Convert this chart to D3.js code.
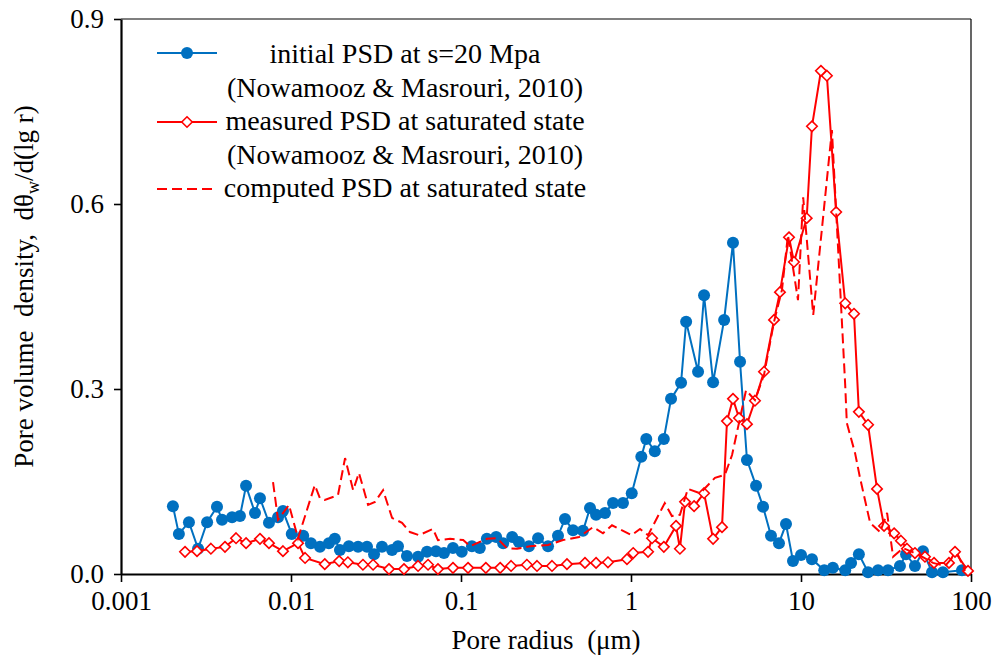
<!DOCTYPE html>
<html>
<head>
<meta charset="utf-8">
<script src="https://cdn.jsdelivr.net/npm/d3@7"></script>
</head>
<body style="margin:0;background:#fff">
<div id="chart"></div>
<script>
// initial PSD at s=20 MPa (blue dots)
const initR = [0.00202,0.00219,0.00251,0.00284,0.00321,0.00367,0.00393,0.00450,0.00501,0.00544,
  0.00614,0.00657,0.00742,0.00839,0.00897,0.0101,0.0118,0.0131,0.0148,0.0167,
  0.0181,0.0194,0.0219,0.0248,0.0280,0.0308,0.0343,0.0393,0.0426,0.0481,
  0.0559,0.0631,0.0713,0.0794,0.0897,0.101,0.116,0.129,0.142,0.161,
  0.177,0.200,0.219,0.251,0.284,0.325,0.372,0.409,0.456,0.522,
  0.574,0.623,0.703,0.784,0.897,1.01,1.15,1.23,1.38,1.56,
  1.72,1.97,2.11,2.48,2.69,3.04,3.53,3.98,4.38,4.81,
  5.44,5.98,6.66,7.42,8.16,8.97,10.0,11.6,13.7,15.4,
  18.2,19.7,21.9,24.8,28.4,32.5,38.2,41.5,46.8,52.2,
  59.0,68.4,88.5];
const initVal = [0.110,0.065,0.084,0.041,0.084,0.109,0.088,0.092,0.094,0.143,
  0.099,0.123,0.083,0.092,0.102,0.065,0.062,0.050,0.044,0.050,
  0.057,0.039,0.045,0.044,0.044,0.032,0.044,0.039,0.045,0.029,
  0.028,0.036,0.037,0.034,0.042,0.036,0.045,0.042,0.057,0.060,
  0.050,0.060,0.052,0.045,0.058,0.045,0.062,0.089,0.071,0.070,
  0.107,0.096,0.099,0.115,0.115,0.131,0.190,0.219,0.199,0.219,
  0.284,0.310,0.409,0.328,0.452,0.311,0.412,0.537,0.344,0.185,
  0.143,0.109,0.062,0.050,0.081,0.021,0.031,0.024,0.006,0.010,
  0.006,0.018,0.032,0.003,0.006,0.006,0.013,0.032,0.013,0.037,
  0.003,0.003,0.006];

// measured PSD at saturated state (red diamonds)
const measR = [0.00238,0.00280,0.00338,0.00409,0.00475,0.00544,0.00657,0.00742,0.00897,0.0110,
  0.0121,0.0158,0.0192,0.0216,0.0265,0.0304,0.0377,0.0462,0.0559,0.0640,
  0.0732,0.0897,0.110,0.140,0.170,0.197,0.244,0.280,0.343,0.420,
  0.536,0.623,0.732,0.947,1.03,1.26,1.33,1.56,1.84,1.94,
  2.08,2.35,2.69,3.04,3.43,3.67,3.98,4.32,4.81,5.36,
  6.06,6.94,7.52,8.50,9.09,10.8,11.6,13.1,14.2,16.1,
  18.2,20.5,21.9,24.8,28.0,30.8,35.3,38.7,42.0,46.8,
  53.6,60.6,74.2,80.5,96.0];
const measVal = [0.036,0.037,0.041,0.044,0.058,0.050,0.057,0.050,0.037,0.050,
  0.026,0.016,0.021,0.019,0.015,0.015,0.008,0.008,0.013,0.015,
  0.008,0.010,0.010,0.010,0.010,0.013,0.015,0.013,0.013,0.016,
  0.018,0.018,0.019,0.024,0.034,0.036,0.058,0.044,0.078,0.041,
  0.117,0.110,0.131,0.057,0.076,0.248,0.284,0.253,0.243,0.281,
  0.328,0.412,0.457,0.546,0.506,0.577,0.726,0.816,0.808,0.587,
  0.439,0.422,0.263,0.242,0.138,0.078,0.066,0.054,0.041,0.034,
  0.028,0.018,0.018,0.036,0.005];

// computed PSD at saturated state (red dashed)
const compR = [0.00784,0.00839,0.00973,0.0110,0.0138,0.0148,0.0158,0.0189,0.0208,0.0232,
  0.0251,0.0284,0.0312,0.0348,0.0393,0.0450,0.0501,0.0566,0.0684,0.0732,
  0.0862,0.103,0.113,0.129,0.142,0.163,0.186,0.214,0.255,0.325,
  0.398,0.495,0.598,0.684,0.773,1.01,1.13,1.26,1.58,1.74,
  1.94,2.16,2.55,3.12,3.57,3.93,4.75,5.36,6.06,6.94,
  7.73,8.38,9.60,10.3,11.8,15.2,18.2,18.6,20.8,22.2,
  25.5,29.2,32.1,34.8,39.8,45.0,51.5,59.8,70.3,77.3,
  83.8,92.2];
const compVal = [0.149,0.088,0.112,0.058,0.144,0.123,0.120,0.128,0.188,0.136,
  0.164,0.112,0.117,0.136,0.091,0.083,0.068,0.063,0.073,0.055,
  0.057,0.055,0.045,0.052,0.057,0.058,0.042,0.041,0.045,0.047,
  0.055,0.060,0.076,0.066,0.079,0.063,0.073,0.063,0.115,0.094,
  0.096,0.138,0.131,0.156,0.161,0.193,0.298,0.282,0.323,0.409,
  0.461,0.550,0.444,0.611,0.420,0.720,0.306,0.245,0.196,0.157,
  0.083,0.068,0.099,0.028,0.042,0.036,0.028,0.018,0.013,0.026,
  0.031,0.005];

const xTicks = [0.001, 0.01, 0.1, 1, 10, 100];
const xTickLabels = ["0.001", "0.01", "0.1", "1", "10", "100"];
const yTicks = [0, 0.3, 0.6, 0.9];
const legendLines = ["initial PSD at s=20 Mpa", "(Nowamooz & Masrouri, 2010)",
  "measured PSD at saturated state", "(Nowamooz & Masrouri, 2010)",
  "computed PSD at saturated state"];

const blue = "#0070c0", red = "#ff0000";
const FONT = "Liberation Serif";

// plot area
var margin = { top: 19, right: 29, bottom: 92, left: 121 },
  width = 1000 - margin.left - margin.right,
  height = 666 - margin.top - margin.bottom;

var svg = d3.select("#chart").append("svg")
  .attr("width", 1000).attr("height", 666)
  .attr("font-family", FONT);

var g = svg.append("g")
  .attr("transform", "translate(" + margin.left + "," + margin.top + ")");

var x = d3.scaleLog().domain([0.001, 100]).range([0, width]);
var y = d3.scaleLinear().domain([0, 0.9]).range([height, 0]);

// frame: thin top/right
g.append("line").attr("x1", 0).attr("x2", width).attr("y1", 0).attr("y2", 0)
  .attr("stroke", "#000").attr("stroke-width", 1.2);
g.append("line").attr("x1", width).attr("x2", width).attr("y1", 0).attr("y2", height)
  .attr("stroke", "#000").attr("stroke-width", 1.2);

var xAxis = g.append("g")
  .attr("transform", "translate(0," + height + ")")
  .call(d3.axisBottom(x).tickValues(xTicks)
    .tickFormat((d, i) => xTickLabels[i]).tickSize(8).tickPadding(9).tickSizeOuter(0));

var yAxis = g.append("g")
  .call(d3.axisLeft(y).tickValues(yTicks).tickFormat(d3.format(".1f"))
    .tickSize(7).tickPadding(10).tickSizeOuter(0));

[xAxis, yAxis].forEach(function (a) {
  a.attr("font-family", FONT).attr("font-size", 27);
  a.select(".domain").attr("stroke", "#000").attr("stroke-width", 2.2);
  a.selectAll(".tick line").attr("stroke", "#000").attr("stroke-width", 1.6);
  a.selectAll("text").attr("fill", "#000");
});

// axis titles
svg.append("text")
  .attr("x", margin.left + width / 2).attr("y", 649)
  .attr("text-anchor", "middle").attr("font-size", 27)
  .text("Pore radius \u00a0(\u03bcm)");

var yt = svg.append("text")
  .attr("transform", "translate(33," + (margin.top + height / 2 - 10) + ") rotate(-90)")
  .attr("text-anchor", "middle").attr("font-size", 27);
yt.append("tspan").text("Pore volume \u00a0density, \u00a0d\u03b8");
yt.append("tspan").attr("dy", 6).attr("font-size", 18).text("w");
yt.append("tspan").attr("dy", -6).text("/d(lg r)");

// series
var line = d3.line().x(d => x(d[0])).y(d => y(d[1]));
const initData = initR.map((r, i) => [r, initVal[i]]);
const measData = measR.map((r, i) => [r, measVal[i]]);
const compData = compR.map((r, i) => [r, compVal[i]]);

g.append("path").datum(initData).attr("d", line)
  .attr("fill", "none").attr("stroke", blue).attr("stroke-width", 2);
g.selectAll("circle.init").data(initData).enter().append("circle")
  .attr("class", "init")
  .attr("cx", d => x(d[0])).attr("cy", d => y(d[1])).attr("r", 6)
  .attr("fill", blue);

var diamond = d3.symbol().type(d3.symbolDiamond2).size(70);
g.append("path").datum(measData).attr("d", line)
  .attr("fill", "none").attr("stroke", red).attr("stroke-width", 2);
g.selectAll("path.meas").data(measData).enter().append("path")
  .attr("class", "meas")
  .attr("transform", d => "translate(" + x(d[0]) + "," + y(d[1]) + ")")
  .attr("d", diamond).attr("fill", "#fff").attr("stroke", red).attr("stroke-width", 1.6);

g.append("path").datum(compData).attr("d", line)
  .attr("fill", "none").attr("stroke", red).attr("stroke-width", 2)
  .attr("stroke-dasharray", "10,5");

// legend
var legY = [63, 97, 130, 164, 197];
var leg = svg.append("g");
leg.selectAll("text").data(legendLines).enter().append("text")
  .attr("x", 405).attr("y", (d, i) => legY[i])
  .attr("text-anchor", "middle").attr("font-size", 28)
  .text(d => d);

leg.append("line").attr("x1", 157).attr("x2", 217).attr("y1", 53).attr("y2", 53)
  .attr("stroke", blue).attr("stroke-width", 2);
leg.append("circle").attr("cx", 187).attr("cy", 53).attr("r", 6).attr("fill", blue);
leg.append("line").attr("x1", 157).attr("x2", 217).attr("y1", 122).attr("y2", 122)
  .attr("stroke", red).attr("stroke-width", 2);
leg.append("path").attr("transform", "translate(187,122)").attr("d", diamond)
  .attr("fill", "#fff").attr("stroke", red).attr("stroke-width", 1.6);
leg.append("line").attr("x1", 157).attr("x2", 217).attr("y1", 189).attr("y2", 189)
  .attr("stroke", red).attr("stroke-width", 2).attr("stroke-dasharray", "10,5");
</script>
</body>
</html>
